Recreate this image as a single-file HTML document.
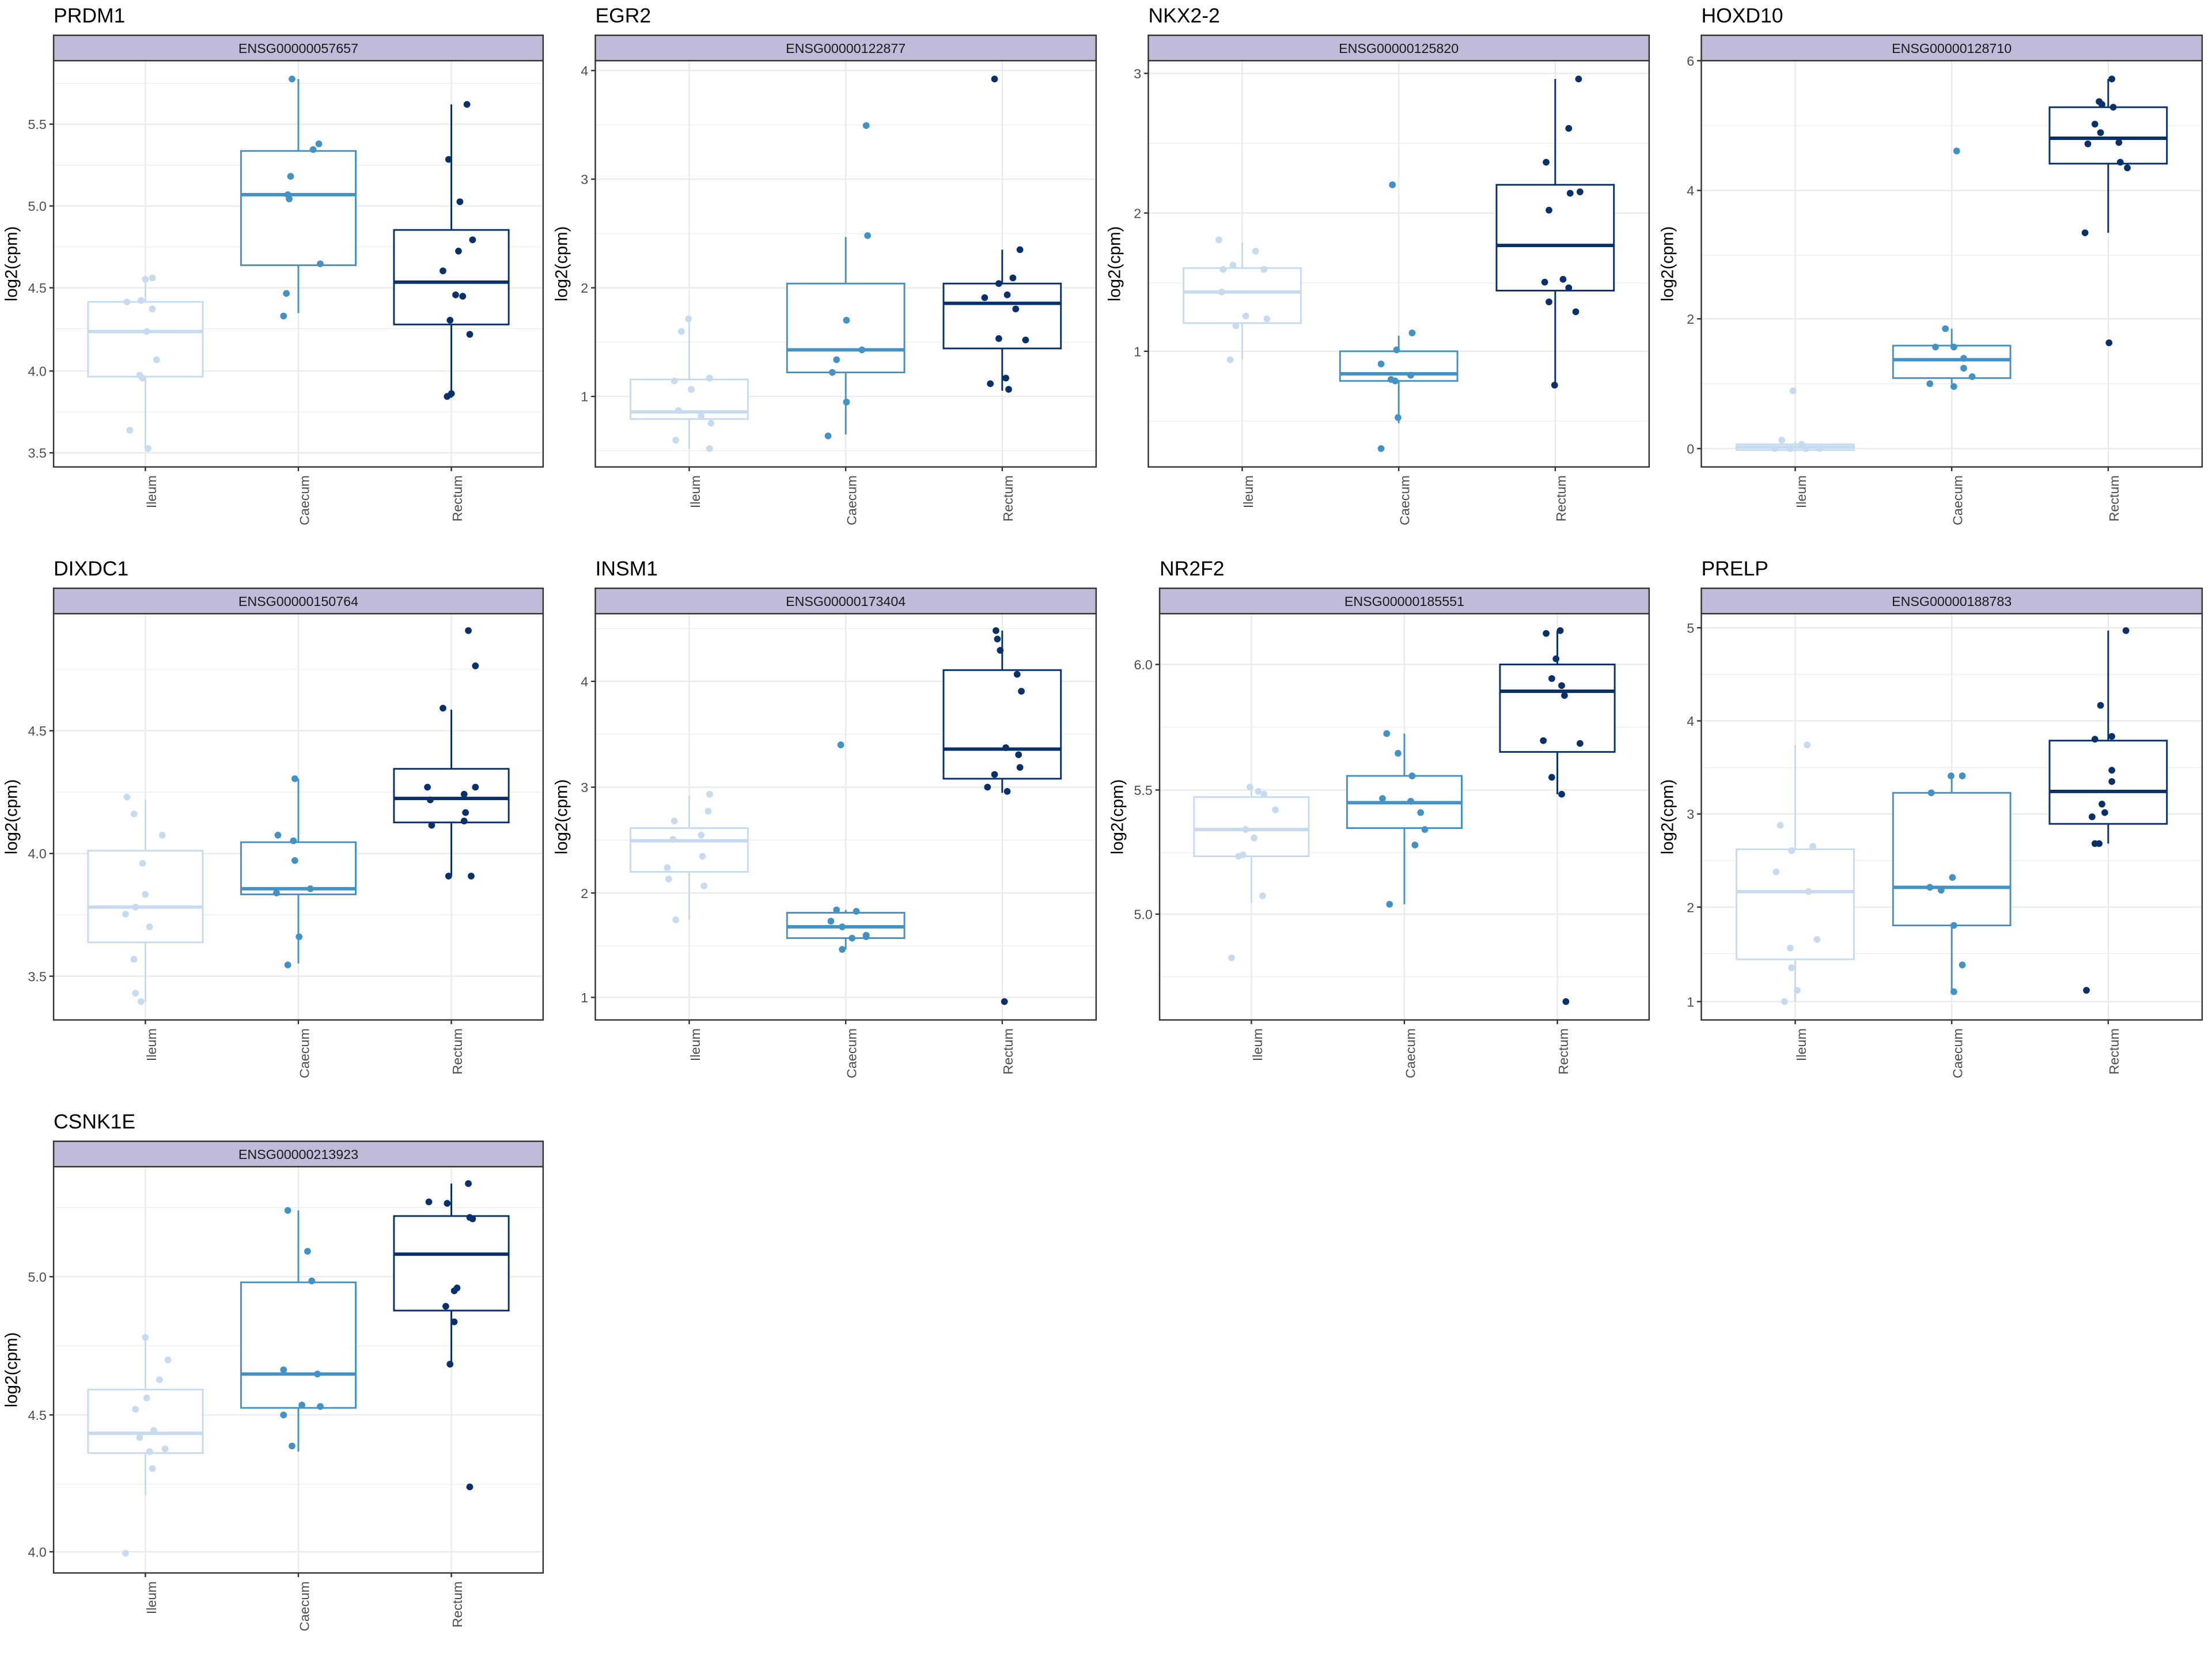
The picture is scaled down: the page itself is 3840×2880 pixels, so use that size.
<!DOCTYPE html>
<html><head><meta charset="utf-8"><style>
html,body{margin:0;padding:0;background:#fff;}
svg{display:block;}
text{font-family:"Liberation Sans",sans-serif;}
</style></head><body>
<svg id="s" xmlns="http://www.w3.org/2000/svg" width="3840" height="2880" viewBox="0 0 1568 1176"><rect width="1568" height="1176" fill="#fff"/></svg>
<script>
const C=['#c6dbef','#4292c6','#08306b'];
const P=[
{t:'PRDM1',id:'ENSG00000057657',x0:38,x1:385,y0:25,yl:-26,ticks:[['5.5',88],['5.0',146],['4.5',204],['4.0',263],['3.5',321]],
b:[[214,267,235,196,318,[[103,198],[108,197],[90,214],[100,213],[108,219],[104,235],[111,255],[99,266],[101,268],[92,305],[105,318]]],
[107,188,138,56,222,[[207,56],[226,102],[222,106],[206,125],[204,138],[205,141],[227,187],[203,208],[201,224]]],
[163,230,200,74,282,[[331,74],[318,113],[326,143],[335,170],[325,178],[314,192],[323,209],[328,210],[319,227],[333,237],[320,279],[317,281]]]]},
{t:'EGR2',id:'ENSG00000122877',x0:422,x1:777,y0:25,yl:-20,ticks:[['4',50],['3',127],['2',204],['1',281]],
b:[[269,297,292,226,318,[[488,226],[483,235],[490,276],[478,270],[503,268],[481,291],[497,295],[504,300],[479,312],[503,318]]],
[201,264,248,168,308,[[614,89],[615,167],[600,227],[593,255],[590,264],[611,248],[600,285],[587,309]]],
[201,247,215,177,277,[[705,56],[723,177],[718,197],[708,201],[714,209],[698,211],[720,219],[708,240],[727,241],[713,268],[702,272],[715,276]]]]},
{t:'NKX2-2',id:'ENSG00000125820',x0:814,x1:1169,y0:25,yl:-20,ticks:[['3',52],['2',151],['1',249]],
b:[[190,229,207,172,255,[[864,170],[890,178],[874,188],[867,191],[896,191],[866,207],[883,224],[876,231],[898,226],[872,255]]],
[249,270,265,238,300,[[987,131],[1001,236],[990,248],[979,258],[1000,266],[986,269],[989,270],[991,296],[979,318]]],
[131,206,174,56,273,[[1119,56],[1112,91],[1096,115],[1113,137],[1120,136],[1098,149],[1095,200],[1108,198],[1112,204],[1098,214],[1117,221],[1102,273]]]]},
{t:'HOXD10',id:'ENSG00000128710',x0:1206,x1:1561,y0:25,yl:-20,ticks:[['6',43],['4',135],['2',226],['0',318]],
b:[[315,319,317,313,320,[[1271,277],[1263,312],[1277,315],[1258,318],[1269,318],[1290,318],[1280,318]]],
[245,268,255,233,272,[[1387,107],[1379,233],[1372,246],[1385,246],[1392,254],[1392,261],[1398,267],[1368,272],[1385,274]]],
[76,116,98,56,165,[[1497,56],[1488,72],[1490,74],[1498,76],[1485,88],[1489,94],[1480,102],[1502,101],[1503,115],[1508,119],[1478,165],[1495,243]]]]},
{t:'DIXDC1',id:'ENSG00000150764',x0:38,x1:385,y0:417,yl:-26,ticks:[['4.5',518],['4.0',605],['3.5',692]],
b:[[603,668,643,567,710,[[90,565],[95,577],[115,592],[101,612],[103,634],[96,643],[89,648],[106,657],[95,680],[96,704],[100,710]]],
[597,634,630,552,683,[[209,552],[197,592],[208,596],[209,610],[220,630],[196,633],[212,664],[204,684]]],
[545,583,566,503,621,[[332,447],[337,472],[314,502],[303,558],[337,558],[305,567],[329,563],[330,576],[329,582],[306,585],[318,621],[334,621]]]]},
{t:'INSM1',id:'ENSG00000173404',x0:422,x1:777,y0:417,yl:-20,ticks:[['4',483],['3',558],['2',633],['1',707]],
b:[[587,618,596,564,652,[[503,563],[502,575],[478,582],[497,592],[477,595],[498,607],[473,615],[474,623],[499,628],[479,652]]],
[647,665,657,645,673,[[596,528],[593,645],[607,646],[589,653],[597,657],[614,663],[604,665],[614,664],[597,673]]],
[475,552,531,447,562,[[706,447],[707,453],[709,461],[721,478],[724,490],[713,530],[722,535],[723,544],[705,549],[700,558],[714,561],[712,710]]]]},
{t:'NR2F2',id:'ENSG00000185551',x0:822,x1:1169,y0:417,yl:-26,ticks:[['6.0',471],['5.5',560],['5.0',648]],
b:[[565,607,588,560,640,[[886,558],[892,561],[896,563],[904,574],[883,588],[889,594],[881,606],[878,607],[895,635],[873,679]]],
[550,587,569,520,641,[[983,520],[991,534],[1001,550],[980,566],[1000,568],[1007,576],[1010,588],[1003,599],[985,641]]],
[471,533,490,447,563,[[1106,447],[1096,449],[1103,467],[1100,481],[1107,486],[1109,493],[1094,525],[1120,527],[1100,551],[1107,563],[1110,710]]]]},
{t:'PRELP',id:'ENSG00000188783',x0:1206,x1:1561,y0:417,yl:-20,ticks:[['5',445],['4',511],['3',577],['2',643],['1',710]],
b:[[602,680,632,528,710,[[1281,528],[1262,585],[1285,600],[1270,603],[1259,618],[1282,632],[1288,666],[1269,672],[1270,686],[1274,702],[1265,710]]],
[562,656,629,550,703,[[1383,550],[1391,550],[1369,562],[1384,622],[1368,629],[1376,631],[1385,656],[1391,684],[1385,703]]],
[525,584,561,447,598,[[1507,447],[1489,500],[1485,524],[1497,522],[1497,546],[1497,554],[1490,570],[1492,576],[1483,579],[1488,598],[1485,598],[1479,702]]]]},
{t:'CSNK1E',id:'ENSG00000213923',x0:38,x1:385,y0:809,yl:-26,ticks:[['5.0',905],['4.5',1003],['4.0',1100]],
b:[[985,1030,1016,947,1060,[[103,948],[119,964],[113,978],[104,991],[96,999],[109,1014],[99,1019],[117,1027],[106,1029],[108,1041],[89,1101]]],
[909,998,974,858,1029,[[204,858],[218,887],[221,908],[201,971],[225,974],[214,996],[201,1003],[227,997],[207,1025]]],
[862,929,889,839,968,[[332,839],[304,852],[317,853],[333,863],[335,864],[324,913],[322,915],[316,926],[322,937],[319,967],[333,1054]]]]}
];
const labs=['Ileum','Caecum','Rectum'];
let h='';
for(const p of P){
 const sy=p.y0, py0=sy+18, py1=py0+288, w=p.x1-p.x0;
 const cx=i=>p.x0+(i+0.6)/3.2*w, bw=0.75*w/3.2;
 h+=`<text x="${p.x0}" y="${sy-9}" font-size="14.5" fill="#000">${p.t}</text>`;
 const tk=p.ticks, d=tk[1][1]-tk[0][1];
 for(let k=-1;k<tk.length;k++){const y=tk[Math.max(k,0)][1]+(k<0?-d/2:d/2);if(y>py0&&y<py1)h+=`<line x1="${p.x0}" x2="${p.x1}" y1="${y}" y2="${y}" stroke="#ebebeb" stroke-width="0.5"/>`;}
 for(const [l,y] of tk){h+=`<line x1="${p.x0}" x2="${p.x1}" y1="${y}" y2="${y}" stroke="#ebebeb" stroke-width="1"/><line x1="${p.x0-3}" x2="${p.x0}" y1="${y}" y2="${y}" stroke="#333" stroke-width="1"/><text x="${p.x0-5}" y="${y+3.5}" font-size="9.5" fill="#4d4d4d" text-anchor="end">${l}</text>`;}
 for(let i=0;i<3;i++){const x=cx(i);h+=`<line x1="${x}" x2="${x}" y1="${py0}" y2="${py1}" stroke="#ebebeb" stroke-width="1"/><line x1="${x}" x2="${x}" y1="${py1}" y2="${py1+3}" stroke="#333"/><text transform="translate(${x+7.5},${py1+6}) rotate(-90)" font-size="9.5" fill="#4d4d4d" text-anchor="end">${labs[i]}</text>`;}
 p.b.forEach((b,i)=>{const x=cx(i),c=C[i];
  h+=`<line x1="${x}" x2="${x}" y1="${b[3]}" y2="${b[0]}" stroke="${c}" stroke-width="1.2"/><line x1="${x}" x2="${x}" y1="${b[1]}" y2="${b[4]}" stroke="${c}" stroke-width="1.2"/>`;
  h+=`<rect x="${x-bw/2}" y="${b[0]}" width="${bw}" height="${b[1]-b[0]}" fill="#fff" stroke="${c}" stroke-width="1.2"/><line x1="${x-bw/2}" x2="${x+bw/2}" y1="${b[2]}" y2="${b[2]}" stroke="${c}" stroke-width="2.4"/>`;
  for(const q of b[5])h+=`<circle cx="${q[0]}" cy="${q[1]}" r="2.4" fill="${c}"/>`;
 });
 h+=`<rect x="${p.x0}" y="${py0}" width="${w}" height="288" fill="none" stroke="#333" stroke-width="1"/>`;
 h+=`<rect x="${p.x0}" y="${sy}" width="${w}" height="18" fill="#bfbbd9" stroke="#333" stroke-width="1"/><text x="${p.x0+w/2}" y="${sy+12.5}" font-size="9.5" fill="#1a1a1a" text-anchor="middle">${p.id}</text>`;
 h+=`<text transform="translate(${p.x0+p.yl},${(py0+py1)/2}) rotate(-90)" font-size="12" fill="#000" text-anchor="middle">log2(cpm)</text>`;
}
document.getElementById('s').insertAdjacentHTML('beforeend',h);
</script>
</body></html>
